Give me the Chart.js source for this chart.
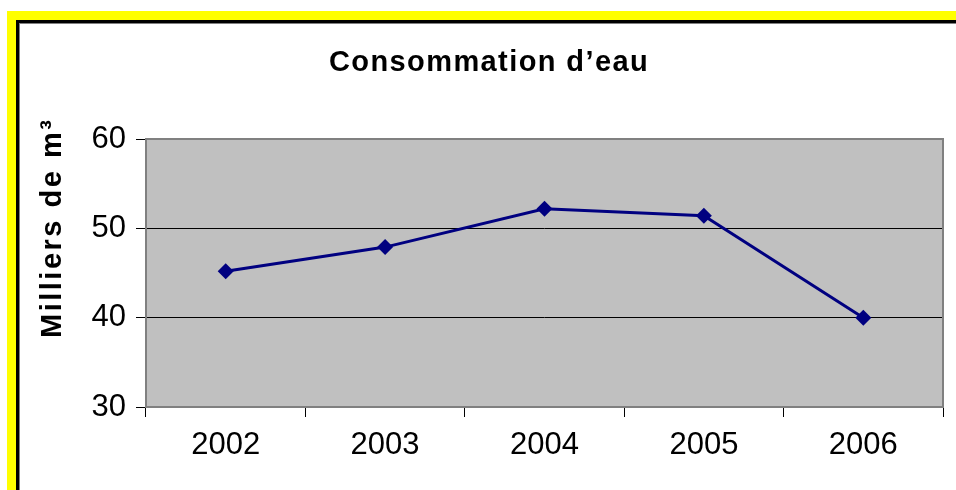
<!DOCTYPE html>
<html>
<head>
<meta charset="utf-8">
<script src="https://cdn.jsdelivr.net/npm/chart.js@4"></script>
<style>
  html, body { margin: 0; padding: 0; background: #fff; overflow: hidden; }
  #frame {
    position: absolute; left: 7px; top: 11px; width: 1100px; height: 700px;
    border-left: 9px solid #ffff00; border-top: 9px solid #ffff00;
  }
  #inner {
    width: 100%; height: 100%;
    border-left: 3px solid #000; border-top: 3px solid #000;
    box-shadow: inset 1px 1px 0 #808080;
  }
  #wrap { position: absolute; left: 0; top: 0; width: 956px; height: 490px; }
</style>
</head>
<body>
<div id="frame"><div id="inner"></div></div>
<div id="wrap"><canvas id="water-chart"></canvas></div>
<script>
// Consommation d'eau (milliers de m3)
const years = ["2002", "2003", "2004", "2005", "2006"];
const consumption = [45.2, 47.9, 52.2, 51.4, 40.0];
const yTicks = [30, 40, 50, 60];

const chartTitle = "Consommation d\u2019eau";
const yTitle = "Milliers de m\u00b3";

// plot background, grey border and the two titles
const excelLook = {
  id: "excelLook",
  beforeDraw(chart) {
    const { ctx, chartArea: a } = chart;
    ctx.save();
    ctx.fillStyle = "#c0c0c0";
    ctx.fillRect(a.left, a.top, a.right - a.left, a.bottom - a.top);
    ctx.restore();
  },
  beforeDatasetsDraw(chart) {
    const { ctx, chartArea: a } = chart;
    ctx.save();
    ctx.strokeStyle = "#808080";
    ctx.lineWidth = 2;
    ctx.strokeRect(a.left, a.top, a.right - a.left, a.bottom - a.top);
    ctx.restore();
  },
  afterDraw(chart) {
    const ctx = chart.ctx;
    ctx.save();
    ctx.fillStyle = "#000";
    ctx.textAlign = "left";
    ctx.textBaseline = "alphabetic";
    ctx.font = "bold 29px 'Liberation Sans', Arial, sans-serif";
    ctx.letterSpacing = "1.4px";
    ctx.fillText(chartTitle, 329, 71);
    ctx.translate(61, 338);
    ctx.rotate(-Math.PI / 2);
    ctx.letterSpacing = "2.5px";
    ctx.fillText(yTitle, 0, 0);
    ctx.restore();
  },
};

const tickFont = { family: "'Liberation Sans', Arial, sans-serif", size: 31, lineHeight: 1.2 };

new Chart(document.getElementById("water-chart").getContext("2d"), {
  type: "line",
  data: {
    labels: years,
    datasets: [
      {
        label: "Consommation",
        data: consumption,
        borderColor: "#000080",
        backgroundColor: "#000080",
        borderWidth: 3,
        tension: 0,
        pointStyle: "rectRot",
        pointRadius: 8,
        pointBorderWidth: 0,
        pointBackgroundColor: "#000080",
      },
    ],
  },
  options: {
    responsive: true,
    maintainAspectRatio: false,
    animation: false,
    layout: { padding: { left: 0, right: 13, top: 139, bottom: 0 } },
    plugins: {
      legend: { display: false },
      title: { display: false },
      tooltip: { enabled: false },
    },
    scales: {
      x: {
        offset: true,
        border: { display: false },
        grid: {
          offset: true,
          drawOnChartArea: false,
          drawTicks: true,
          tickLength: 10,
          tickColor: "#000",
        },
        ticks: { color: "#000", font: tickFont, padding: 10, maxRotation: 0 },
        afterFit(scale) { scale.height = 83; },
      },
      y: {
        min: yTicks[0],
        max: yTicks[yTicks.length - 1],
        border: { display: false },
        grid: {
          color: (c) => (c.tick && (c.tick.value === 30 || c.tick.value === 60) ? "rgba(0,0,0,0)" : "#000"),
          lineWidth: 1,
          tickLength: 10,
          tickColor: "#000",
        },
        ticks: {
          stepSize: 10,
          color: "#000",
          font: tickFont,
          padding: 10,
        },
        afterBuildTicks(scale) { scale.ticks = yTicks.map((v) => ({ value: v })); },
        afterFit(scale) { scale.width = 146; },
      },
    },
  },
  plugins: [excelLook],
});
</script>
</body>
</html>
